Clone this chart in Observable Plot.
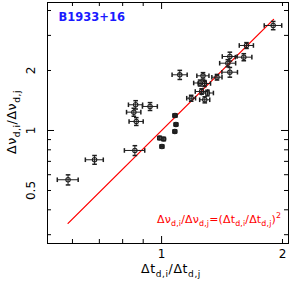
<!DOCTYPE html>
<html><head><meta charset="utf-8">
<script src="https://cdn.jsdelivr.net/npm/d3@7"></script>
<script src="https://cdn.jsdelivr.net/npm/@observablehq/plot@0.6"></script>
<style>body{margin:0;background:#fff} svg{display:block}</style>
</head><body><div id="chart"></div>
<script>
// Δt_d,i / Δt_d,j (x) and Δν_d,i / Δν_d,j (y), with 1σ errors
const ratioT  = [0.585, 0.681, 0.858, 0.862, 0.936, 0.853, 0.865, 0.989, 1.012, 1.002, 1.079, 1.086, 1.080, 1.110, 1.185, 1.281, 1.258, 1.301, 1.247, 1.279, 1.268, 1.374, 1.479, 1.462, 1.479, 1.602, 1.627, 1.896];
const ratioNu = [0.566, 0.713, 0.794, 1.346, 1.320, 1.236, 1.110, 0.917, 0.906, 0.831, 0.989, 1.072, 1.189, 1.903, 1.452, 1.426, 1.569, 1.542, 1.731, 1.721, 1.881, 1.851, 1.961, 2.176, 2.351, 2.333, 2.670, 3.364];
const errT    = [0.035, 0.035, 0.050, 0.035, 0.040, 0.035, 0.035, 0.010, 0.010, 0.010, 0.010, 0.010, 0.012, 0.048, 0.030, 0.037, 0.045, 0.045, 0.045, 0.045, 0.044, 0.040, 0.066, 0.067, 0.063, 0.076, 0.066, 0.095];
const errNu   = [0.033, 0.036, 0.045, 0.065, 0.060, 0.057, 0.050, 0.015, 0.015, 0.013, 0.015, 0.016, 0.018, 0.100, 0.050, 0.050, 0.050, 0.050, 0.060, 0.060, 0.070, 0.060, 0.110, 0.090, 0.120, 0.095, 0.090, 0.160];
// model line endpoints (Δν ratio = (Δt ratio)^2)
const fitT  = [0.585, 1.90];
const fitNu = [0.342, 3.61];
const xTickValues = [0.6, 0.7, 0.8, 0.9, 1, 2];
const xTickLabels = [1, 2];
const yTickValues = [0.3, 0.4, 0.5, 0.6, 0.7, 0.8, 0.9, 1, 2, 3, 4];
const yTickLabels = [0.5, 1, 2];
const pulsarName = "B1933+16";

const points = ratioT.map((x, i) => ({x, y: ratioNu[i], ex: errT[i], ey: errNu[i]}));
const fit = fitT.map((x, i) => ({x, y: fitNu[i]}));

const W = 291, H = 286, mL = 47, mR = 3, mT = 2, mB = 43;
const innerH = H - mT - mB, innerW = W - mL - mR;
const ink = "#1e1e1e";

const capV = {draw(ctx, size) { const h = Math.sqrt(size / Math.PI); ctx.moveTo(0, -h); ctx.lineTo(0, h); }};
const capH = {draw(ctx, size) { const h = Math.sqrt(size / Math.PI); ctx.moveTo(-h, 0); ctx.lineTo(h, 0); }};

const minor = a => a.filter(d => d !== 1);
const major = a => a.filter(d => d === 1);

const chart = Plot.plot({
  width: W, height: H,
  marginLeft: mL, marginRight: mR, marginTop: mT, marginBottom: mB,
  style: {fontFamily: "DejaVu Sans", fontSize: "12px", background: "white", color: "black"},
  x: {type: "log", domain: [0.520, 2.070], axis: null},
  y: {type: "log", domain: [0.271, 4.387], axis: null},
  marks: [
    // inward ticks
    Plot.tickX(minor(xTickValues), {x: d => d, insetTop: innerH - 4, stroke: "black"}),
    Plot.tickX(major(xTickValues), {x: d => d, insetTop: innerH - 7, stroke: "black"}),
    Plot.tickX(minor(xTickValues), {x: d => d, insetBottom: innerH - 4, stroke: "black"}),
    Plot.tickX(major(xTickValues), {x: d => d, insetBottom: innerH - 7, stroke: "black"}),
    Plot.tickY(minor(yTickValues), {y: d => d, insetRight: innerW - 4, stroke: "black"}),
    Plot.tickY(major(yTickValues), {y: d => d, insetRight: innerW - 7, stroke: "black"}),
    Plot.tickY(minor(yTickValues), {y: d => d, insetLeft: innerW - 4, stroke: "black"}),
    Plot.tickY(major(yTickValues), {y: d => d, insetLeft: innerW - 7, stroke: "black"}),
    Plot.frame({stroke: "black", strokeWidth: 1}),
    // tick labels
    Plot.text(xTickLabels, {x: d => d, frameAnchor: "bottom", dy: 11, text: d => String(d), fontSize: 12, lineAnchor: "middle"}),
    Plot.text(yTickLabels, {y: d => d, frameAnchor: "left", dx: -16, rotate: -90, text: d => String(d), fontSize: 12, lineAnchor: "middle", textAnchor: "middle"}),
    // model line
    Plot.line(fit, {x: "x", y: "y", stroke: "#ff0000", strokeWidth: 1.3}),
    // error bars
    Plot.link(points, {x1: d => d.x - d.ex, x2: d => d.x + d.ex, y1: "y", y2: "y", stroke: ink, strokeWidth: 1}),
    Plot.link(points, {x1: "x", x2: "x", y1: d => d.y - d.ey, y2: d => d.y + d.ey, stroke: ink, strokeWidth: 1}),
    Plot.dot(points, {x: d => d.x - d.ex, y: "y", symbol: capV, r: 2.3, stroke: ink, fill: "none"}),
    Plot.dot(points, {x: d => d.x + d.ex, y: "y", symbol: capV, r: 2.3, stroke: ink, fill: "none"}),
    Plot.dot(points, {x: "x", y: d => d.y - d.ey, symbol: capH, r: 2.3, stroke: ink, fill: "none"}),
    Plot.dot(points, {x: "x", y: d => d.y + d.ey, symbol: capH, r: 2.3, stroke: ink, fill: "none"}),
    Plot.dot(points, {x: "x", y: "y", r: 2.2, stroke: ink, strokeWidth: 1.1, fill: "none"}),
    // pulsar name
    Plot.text([pulsarName], {frameAnchor: "top-left", dx: 11, dy: 10, text: d => d, fill: "#1a1aff", fontSize: 11.5, fontWeight: "bold", textAnchor: "start", lineAnchor: "top"})
  ]
});
document.getElementById("chart").appendChild(chart);

// rich-text labels with sub/superscripts
const svg = d3.select(chart);
function rich(parts, attrs, size) {
  const t = svg.append("text");
  Object.entries(attrs).forEach(([k, v]) => t.attr(k, v));
  let off = 0;
  parts.forEach(([s, kind]) => {
    const target = kind === "sub" ? size * 0.3 : kind === "sup" ? -size * 0.45 : 0;
    t.append("tspan")
      .attr("dy", target - off)
      .attr("font-size", kind === "normal" ? size : size * 0.72)
      .text(s);
    off = target;
  });
  return t;
}
rich([["Δt", "normal"], ["d,i", "sub"], ["/Δt", "normal"], ["d,j", "sub"]],
  {x: 171, y: 273, "text-anchor": "middle", "font-family": "DejaVu Sans", "letter-spacing": 0.6, fill: "black"}, 12.5);
rich([["Δν", "normal"], ["d,i", "sub"], ["/Δν", "normal"], ["d,j", "sub"]],
  {transform: "translate(16,122) rotate(-90)", "text-anchor": "middle", "font-family": "DejaVu Sans", "letter-spacing": 0.6, fill: "black"}, 12.5);
rich([["Δν", "normal"], ["d,i", "sub"], ["/Δν", "normal"], ["d,j", "sub"], ["=(Δt", "normal"], ["d,i", "sub"], ["/Δt", "normal"], ["d,j", "sub"], [")", "normal"], ["2", "sup"]],
  {x: 157, y: 223, "text-anchor": "start", "font-family": "DejaVu Sans", "letter-spacing": 0.15, fill: "#ff0000"}, 11);
</script></body></html>
